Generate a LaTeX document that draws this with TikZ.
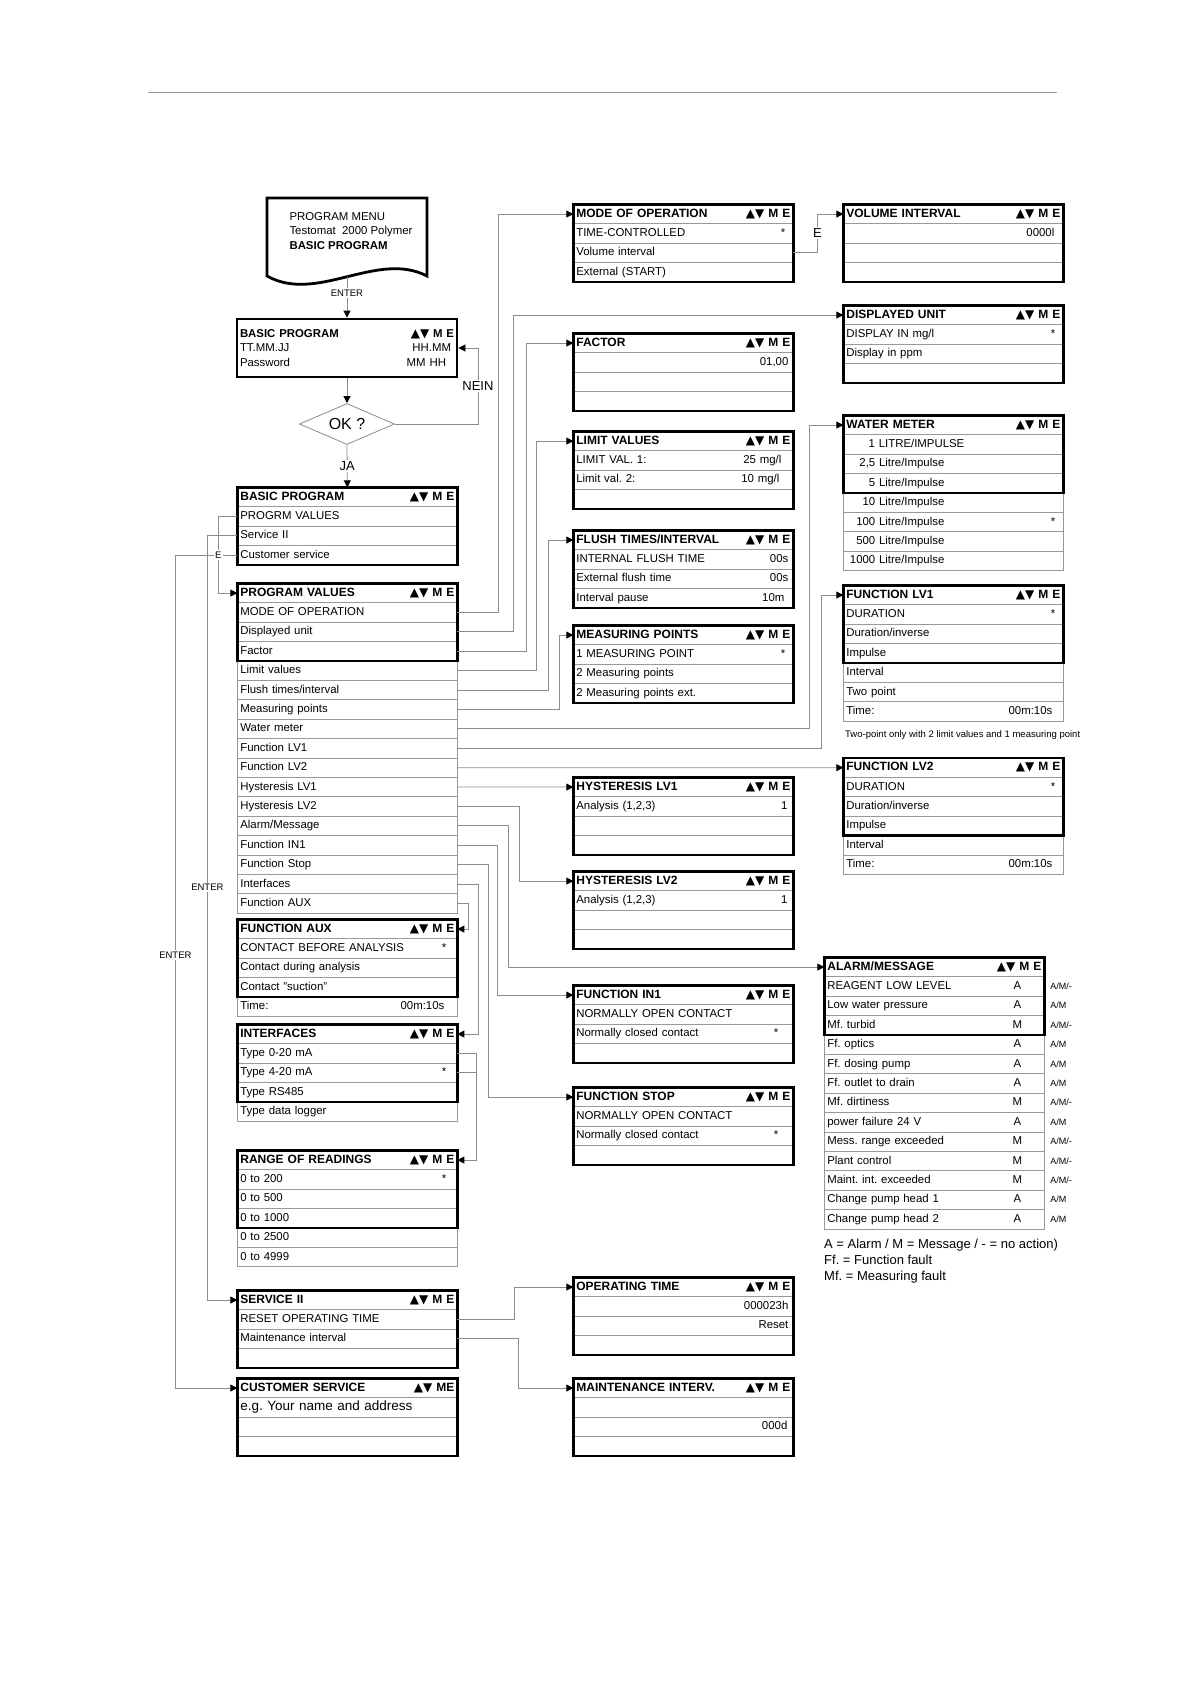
\documentclass[tikz,border=0pt]{standalone}
\usepackage{fontspec}
\setmainfont{Liberation Sans}
\newfontfamily\trifont{DejaVu Sans}
\usepackage{tikz}
\usetikzlibrary{arrows.meta, matrix, positioning, shapes.geometric}
\frenchspacing

\newcommand{\lr}[2]{\makebox[214pt]{#1\hfill#2}}
\newcommand{\keys}{{\trifont\fontsize{12}{12}\selectfont ▲▼}\ M E}
\newcommand{\amrow}[2]{\lr{#1}{\makebox[10pt]{#2}\hspace{19pt}}}

\begin{document}
\begin{tikzpicture}[
  x=1pt, y=-1pt,
  font=\fontsize{11.4}{13}\selectfont,
  menurow/.style={draw=black!40, line width=0.7pt, outer sep=0pt, inner xsep=3pt, inner ysep=0pt,
    text width=214pt, minimum height=19.4pt, text height=8.3pt, text depth=2.4pt},
  head/.style={font=\fontsize{12}{13}\selectfont\bfseries},
  menu/.style={matrix of nodes, nodes in empty cells, nodes={menurow}, row sep=-0.7pt,
    inner sep=0pt, outer sep=0pt, anchor=north west, row 1/.style={nodes={head}}},
  thickframe/.style={draw=black, line width=2.8pt},
  link/.style={draw=black!45, line width=0.8pt},
  arrow/.style={link, -{Triangle[length=7pt, width=7pt, color=black]}},
  lbl/.style={fill=white, inner sep=1.5pt, font=\fontsize{9.5}{10}\selectfont},
  biglbl/.style={lbl, font=\fontsize{13}{13}\selectfont},
  ann/.style={font=\fontsize{9}{9}\selectfont, label distance=3pt}
]
\fill[white] (0,0) rectangle (1191,1684);
\useasboundingbox (0,0) rectangle (1191,1684);
\draw[black!40, line width=1pt] (148,92) -- (1057,92);

% start and password
\draw[thickframe] (267,198) -- (427,198) -- (427,276) .. controls (377,250) and (317,304) .. (267,276) -- cycle;
\node[anchor=north west, align=left, font=\fontsize{11.4}{14.5}\selectfont] (doc) at (286,209)
  {PROGRAM MENU\\Testomat\ \ 2000 Polymer\\\textbf{BASIC PROGRAM}};
\coordinate (docb) at (347,277);
\node[thickframe, minimum width=220pt, minimum height=58pt, text width=214pt, inner sep=3pt,
  font=\fontsize{11.4}{14.5}\selectfont] (bp1) at (347,348)
  {\lr{\textbf{BASIC PROGRAM}}{\textbf{\keys}}\\\lr{TT.MM.JJ}{HH.MM\hspace{3pt}}\\\lr{Password}{MM HH\hspace{8pt}}};
\node[diamond, aspect=2.3, draw=black!45, line width=0.8pt, minimum width=95pt, minimum height=41pt,
  inner sep=0pt, font=\fontsize{16}{16}\selectfont] (ok) at (347,424) {OK ?};

% left column
\matrix[menu] (bp2) at (237,487) {
  \lr{BASIC PROGRAM}{\keys} \\
  PROGRM VALUES \\
  Service II \\
  Customer service \\
};
\matrix[menu] (pv) at (237,583) {
  \lr{PROGRAM VALUES}{\keys} \\
  MODE OF OPERATION \\
  Displayed unit \\
  Factor \\
  Limit values \\
  Flush times/interval \\
  Measuring points \\
  Water meter \\
  Function LV1 \\
  Function LV2 \\
  Hysteresis LV1 \\
  Hysteresis LV2 \\
  Alarm/Message \\
  Function IN1 \\
  Function Stop \\
  Interfaces \\
  Function AUX \\
};
\matrix[menu] (fa) at (237,919) {
  \lr{FUNCTION AUX}{\keys} \\
  \lr{CONTACT BEFORE ANALYSIS}{*\hspace{8pt}} \\
  Contact during analysis \\
  Contact "suction" \\
  \lr{Time:}{00m:10s\hspace{10pt}} \\
};
\matrix[menu] (ifc) at (237,1024) {
  \lr{INTERFACES}{\keys} \\
  Type 0-20 mA \\
  \lr{Type 4-20 mA}{*\hspace{8pt}} \\
  Type RS485 \\
  Type data logger \\
};
\matrix[menu] (rr) at (237,1150) {
  \lr{RANGE OF READINGS}{\keys} \\
  \lr{0 to 200}{*\hspace{8pt}} \\
  0 to 500 \\
  0 to 1000 \\
  0 to 2500 \\
  0 to 4999 \\
};
\matrix[menu] (s2) at (237,1290) {
  \lr{SERVICE II}{\keys} \\
  RESET OPERATING TIME \\
  Maintenance interval \\
  \\
};
\matrix[menu] (cs) at (237,1378) {
  \lr{CUSTOMER SERVICE}{{\trifont\fontsize{12}{12}\selectfont ▲▼}\ ME} \\
  |[font=\fontsize{13.5}{14}\selectfont]| e.g. Your name and address \\
  \\
  \\
};

% middle column
\matrix[menu] (mo) at (573,204) {
  \lr{MODE OF OPERATION}{\keys} \\
  \lr{TIME-CONTROLLED}{*\hspace{5pt}} \\
  Volume interval \\
  External (START) \\
};
\matrix[menu] (fac) at (573,333) {
  \lr{FACTOR}{\keys} \\
  \lr{}{01,00\hspace{2pt}} \\
  \\
  \\
};
\matrix[menu] (lim) at (573,431) {
  \lr{LIMIT VALUES}{\keys} \\
  \lr{LIMIT VAL. 1:}{25 mg/l\hspace{9pt}} \\
  \lr{Limit val. 2:}{10 mg/l\hspace{11pt}} \\
  \\
};
\matrix[menu] (fl) at (573,530) {
  \lr{FLUSH TIMES/INTERVAL}{\keys} \\
  \lr{INTERNAL FLUSH TIME}{00s\hspace{2pt}} \\
  \lr{External flush time}{00s\hspace{2pt}} \\
  \lr{Interval pause}{10m\hspace{6pt}} \\
};
\matrix[menu] (mp) at (573,625) {
  \lr{MEASURING POINTS}{\keys} \\
  \lr{1 MEASURING POINT}{*\hspace{5pt}} \\
  2 Measuring points \\
  2 Measuring points ext. \\
};
\matrix[menu] (h1) at (573,777) {
  \lr{HYSTERESIS LV1}{\keys} \\
  \lr{Analysis (1,2,3)}{1\hspace{3pt}} \\
  \\
  \\
};
\matrix[menu] (h2) at (573,871) {
  \lr{HYSTERESIS LV2}{\keys} \\
  \lr{Analysis (1,2,3)}{1\hspace{3pt}} \\
  \\
  \\
};
\matrix[menu] (in1) at (573,985) {
  \lr{FUNCTION IN1}{\keys} \\
  NORMALLY OPEN CONTACT \\
  \lr{Normally closed contact}{*\hspace{12pt}} \\
  \\
};
\matrix[menu] (fs) at (573,1087) {
  \lr{FUNCTION STOP}{\keys} \\
  NORMALLY OPEN CONTACT \\
  \lr{Normally closed contact}{*\hspace{12pt}} \\
  \\
};
\matrix[menu] (ot) at (573,1277) {
  \lr{OPERATING TIME}{\keys} \\
  \lr{}{000023h\hspace{2pt}} \\
  \lr{}{Reset\hspace{2pt}} \\
  \\
};
\matrix[menu] (mi) at (573,1378) {
  \lr{MAINTENANCE INTERV.}{\keys} \\
  \\
  \lr{}{000d\hspace{3pt}} \\
  \\
};

% right column
\matrix[menu] (vi) at (843,204) {
  \lr{VOLUME INTERVAL}{\keys} \\
  \lr{}{0000l\hspace{6pt}} \\
  \\
  \\
};
\matrix[menu] (du) at (843,305) {
  \lr{DISPLAYED UNIT}{\keys} \\
  \lr{DISPLAY IN mg/l}{*\hspace{5pt}} \\
  Display in ppm \\
  \\
};
\matrix[menu] (wm) at (843,415) {
  \lr{WATER METER}{\keys} \\
  \makebox[118pt][r]{1 LITRE/IMPULSE} \\
  \makebox[98pt][r]{2,5 Litre/Impulse} \\
  \makebox[98pt][r]{5 Litre/Impulse} \\
  \makebox[98pt][r]{10 Litre/Impulse} \\
  \lr{\makebox[98pt][r]{100 Litre/Impulse}}{*\hspace{5pt}} \\
  \makebox[98pt][r]{500 Litre/Impulse} \\
  \makebox[98pt][r]{1000 Litre/Impulse} \\
};
\matrix[menu] (lv1) at (843,585) {
  \lr{FUNCTION LV1}{\keys} \\
  \lr{DURATION}{*\hspace{5pt}} \\
  Duration/inverse \\
  Impulse \\
  Interval \\
  Two point \\
  \lr{Time:}{00m:10s\hspace{8pt}} \\
};
\node[anchor=west, inner sep=0pt, font=\fontsize{9.5}{10}\selectfont] (note) at (845,735)
  {Two-point only with 2 limit values and 1 measuring point};
\matrix[menu] (lv2) at (843,757.6) {
  \lr{FUNCTION LV2}{\keys} \\
  \lr{DURATION}{*\hspace{5pt}} \\
  Duration/inverse \\
  Impulse \\
  Interval \\
  \lr{Time:}{00m:10s\hspace{8pt}} \\
};
\matrix[menu] (am) at (824,957) {
  \lr{ALARM/MESSAGE}{\keys} \\
  |[label={[ann]east:A/M/-}]| \amrow{REAGENT LOW LEVEL}{A} \\
  |[label={[ann]east:A/M}]| \amrow{Low water pressure}{A} \\
  |[label={[ann]east:A/M/-}]| \amrow{Mf. turbid}{M} \\
  |[label={[ann]east:A/M}]| \amrow{Ff. optics}{A} \\
  |[label={[ann]east:A/M}]| \amrow{Ff. dosing pump}{A} \\
  |[label={[ann]east:A/M}]| \amrow{Ff. outlet to drain}{A} \\
  |[label={[ann]east:A/M/-}]| \amrow{Mf. dirtiness}{M} \\
  |[label={[ann]east:A/M}]| \amrow{power failure 24 V}{A} \\
  |[label={[ann]east:A/M/-}]| \amrow{Mess. range exceeded}{M} \\
  |[label={[ann]east:A/M/-}]| \amrow{Plant control}{M} \\
  |[label={[ann]east:A/M/-}]| \amrow{Maint. int. exceeded}{M} \\
  |[label={[ann]east:A/M}]| \amrow{Change pump head 1}{A} \\
  |[label={[ann]east:A/M}]| \amrow{Change pump head 2}{A} \\
};
\node[anchor=north west, align=left, inner sep=0pt, font=\fontsize{13}{16}\selectfont] (legend) at (824,1239)
  {A = Alarm / M = Message / - = no action)\\Ff. = Function fault\\Mf. = Measuring fault};

\foreach \m in {bp2, pv, fa, ifc, rr, s2, cs, mo, fac, lim, fl, mp, h1, h2, in1, fs, ot, mi, vi, du, wm, lv1, lv2, am}
  \draw[thickframe] (\m-1-1.north west) rectangle (\m-4-1.south east);

\draw[arrow] (docb) -- node[lbl, pos=.4]{ENTER} (bp1.north);
\draw[arrow] (bp1.south) -- (ok.north);
\draw[arrow] (ok.south) -- node[biglbl]{JA} (bp2-1-1.north);
\draw[arrow] (ok.east) -- ++(83,0) |- node[biglbl, pos=.25]{NEIN} (bp1.east);
\draw[arrow] (bp2-4-1.west) -- ++(-62,0) |- node[lbl, pos=.24]{ENTER} (cs-1-1.west);
\draw[arrow] (bp2-3-1.west) -- ++(-30,0) |- node[lbl, pos=.23]{ENTER} (s2-1-1.west);
\draw[arrow] (bp2-2-1.west) -- ++(-19,0) |- node[lbl, pos=.25]{E} (pv-1-1.west);

\draw[arrow] (pv-2-1.east) -- ++(41,0) |- (mo-1-1.west);
\draw[arrow] (pv-3-1.east) -- ++(56,0) |- (du-1-1.west);
\draw[arrow] (pv-4-1.east) -- ++(69,0) |- (fac-1-1.west);
\draw[arrow] (pv-5-1.east) -- ++(79,0) |- (lim-1-1.west);
\draw[arrow] (pv-6-1.east) -- ++(91,0) |- (fl-1-1.west);
\draw[arrow] (pv-7-1.east) -- ++(102,0) |- (mp-1-1.west);
\draw[arrow] (pv-8-1.east) -- ++(352,0) |- (wm-1-1.west);
\draw[arrow] (pv-9-1.east) -- ++(364,0) |- (lv1-1-1.west);
\draw[arrow] (pv-10-1.east) -- (lv2-1-1.west);
\draw[arrow] (pv-11-1.east) -- (h1-1-1.west);
\draw[arrow] (pv-12-1.east) -- ++(62,0) |- (h2-1-1.west);
\draw[arrow] (pv-13-1.east) -- ++(51,0) |- (am-1-1.west);
\draw[arrow] (pv-14-1.east) -- ++(40,0) |- (in1-1-1.west);
\draw[arrow] (pv-15-1.east) -- ++(31,0) |- (fs-1-1.west);
\draw[arrow] (pv-16-1.east) -- ++(21,0) |- (ifc-1-1.east);
\draw[arrow] (pv-17-1.east) -- ++(11,0) |- (fa-1-1.east);

\draw[arrow] (ifc-2-1.east) -- ++(19,0) |- (rr-1-1.east);
\draw[link] (ifc-3-1.east) -- ++(19,0);
\draw[arrow] (mo-3-1.east) -- ++(24,0) |- node[biglbl, pos=.25]{E} (vi-1-1.west);
\draw[arrow] (s2-2-1.east) -- ++(57,0) |- (ot-1-1.west);
\draw[arrow] (s2-3-1.east) -- ++(61,0) |- (mi-1-1.west);
\end{tikzpicture}
\end{document}
